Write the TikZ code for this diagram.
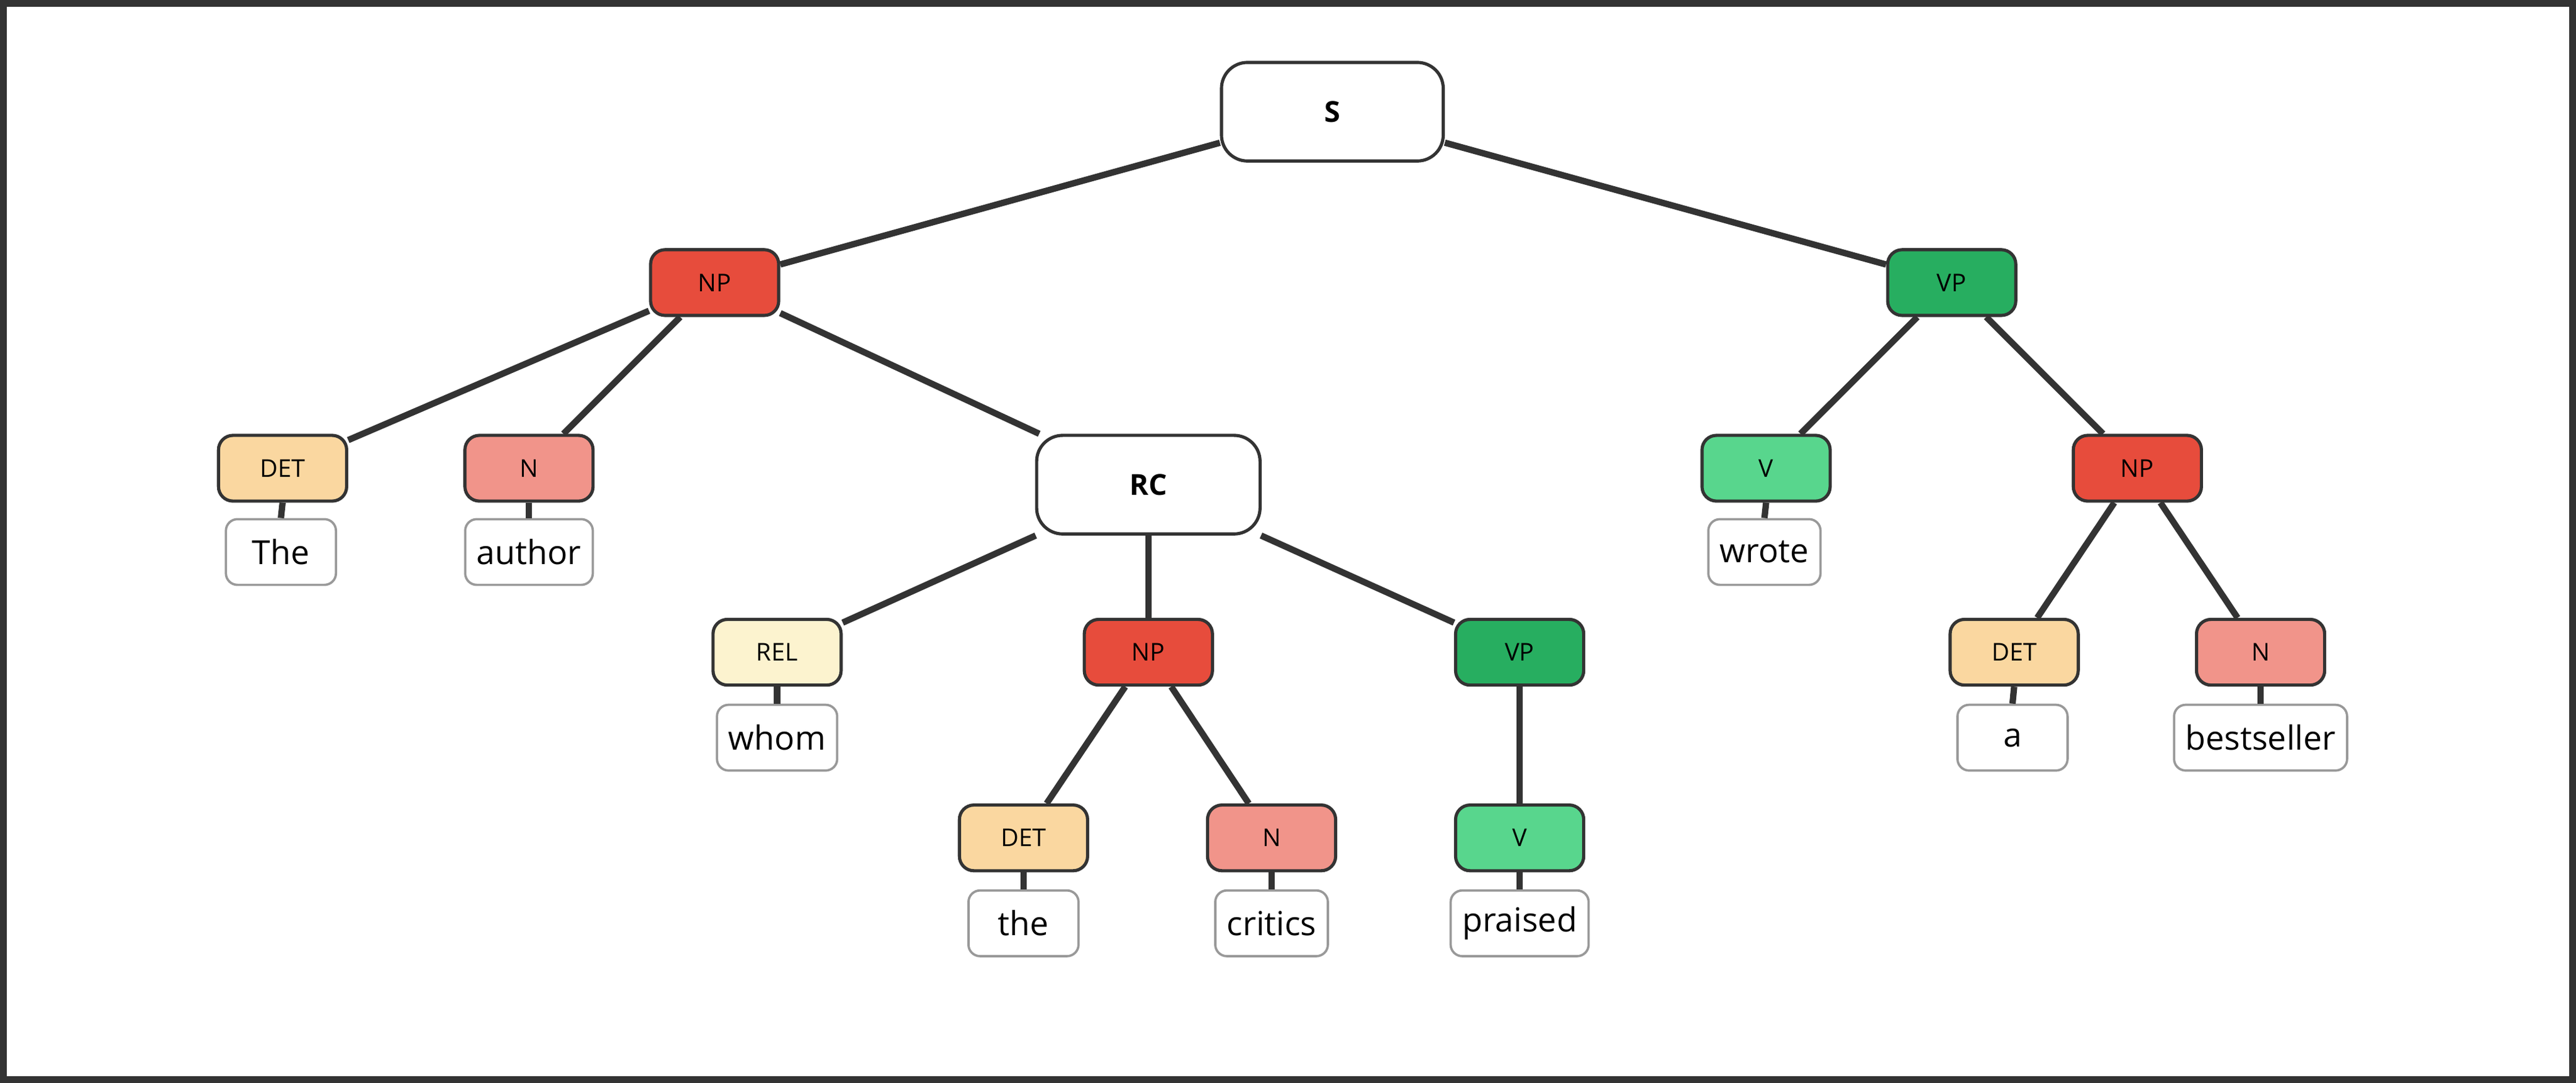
\documentclass[tikz,border=0pt]{standalone}
\usepackage{fontspec}
\setmainfont{Open Sans}
\usetikzlibrary{positioning}
\definecolor{npred}{HTML}{E74C3C}
\definecolor{vpgreen}{HTML}{27AE60}
\definecolor{vgreen}{HTML}{58D68D}
\definecolor{detor}{HTML}{FAD7A0}
\definecolor{npink}{HTML}{F1948A}
\definecolor{relyel}{HTML}{FCF3CF}
\definecolor{edge}{HTML}{333333}
\tikzset{
  tag/.style={draw=edge, line width=1.1pt, rounded corners=5pt, minimum width=1.56cm,
    minimum height=0.8cm, inner sep=0pt, font=\fontsize{8.5}{10}\selectfont},
  phrase/.style={draw=edge, fill=white, line width=1.1pt, rounded corners=9pt, minimum width=2.7cm,
    minimum height=1.2cm, inner sep=0pt, font=\fontsize{10}{12}\selectfont\bfseries},
  word/.style={draw=black!40, fill=white, line width=0.8pt, rounded corners=4pt, minimum height=0.8cm,
    inner sep=4pt, font=\fontsize{11.5}{13}\selectfont},
  link/.style={draw=edge, line width=2.2pt},
}
\begin{document}
\begin{tikzpicture}[x=0.02cm, y=-0.02cm]
    \useasboundingbox (0,0) rectangle (1568,659);
    \draw[edge, line width=2.3pt] (2,2) rectangle (1566,657);

    % phrase nodes
    \node[phrase] (s) at (811,68) {S};
    \node[tag, fill=npred] (np1) at (435,172) {NP};
    \node[tag, fill=vpgreen] (vp1) at (1188,172) {VP};
    \node[tag, fill=detor] (det1) at (172,285) {DET};
    \node[tag, fill=npink] (n1) at (322,285) {N};
    \node[phrase, minimum width=2.72cm] (rc) at (699,295) {RC};
    \node[tag, fill=vgreen] (v1) at (1075,285) {V};
    \node[tag, fill=npred] (np2) at (1301,285) {NP};
    \node[tag, fill=relyel] (rel) at (473,397) {REL};
    \node[tag, fill=npred] (np3) at (699,397) {NP};
    \node[tag, fill=vpgreen] (vp2) at (925,397) {VP};
    \node[tag, fill=detor] (det2) at (1226,397) {DET};
    \node[tag, fill=npink] (n2) at (1376,397) {N};
    \node[tag, fill=detor] (det3) at (623,510) {DET};
    \node[tag, fill=npink] (n3) at (774,510) {N};
    \node[tag, fill=vgreen] (v2) at (925,510) {V};

    % words
    \node[word, minimum width=1.34cm] (w1) at (171,336) {The};
    \node[word] (w2) at (322,336) {author};
    \node[word] (w3) at (1074,336) {wrote};
    \node[word] (w4) at (473,449) {whom};
    \node[word, minimum width=1.34cm] (w5) at (1225,449) {a};
    \node[word] (w6) at (1376,449) {bestseller};
    \node[word, minimum width=1.34cm] (w7) at (623,562) {the};
    \node[word] (w8) at (774,562) {critics};
    \node[word] (w9) at (925,562) {praised};

    % tree edges
    \begin{scope}[on background layer/.try]
    \foreach \a/\b in {s/np1, s/vp1, np1/det1, np1/n1, np1/rc, vp1/v1, vp1/np2,
        rc/rel, rc/np3, rc/vp2, np2/det2, np2/n2, np3/det3, np3/n3, vp2/v2}
      \draw[link] (\a) -- (\b);
    \foreach \a/\b in {det1/w1, n1/w2, v1/w3, rel/w4, det2/w5, n2/w6, det3/w7, n3/w8, v2/w9}
      \draw[link] (\a.south) -- (\b.north);
    \end{scope}
\end{tikzpicture}
\end{document}
